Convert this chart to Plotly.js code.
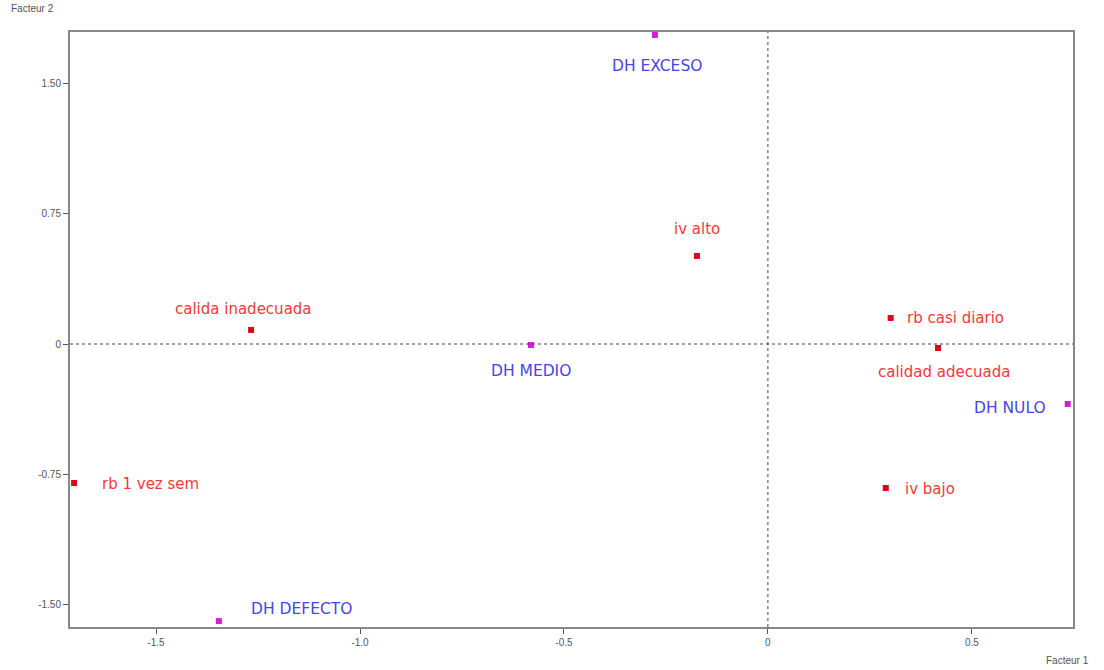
<!DOCTYPE html>
<html><head><meta charset="utf-8">
<script src="https://cdn.plot.ly/plotly-3.0.1.min.js"></script>
<style>html,body{margin:0;padding:0;background:#fff}#chart{width:1104px;height:670px}</style>
</head><body><div id="chart"></div>
<script>
// Modalities (Factor 1, Factor 2)
const redNames = ["iv alto", "calida inadecuada", "rb casi diario", "calidad adecuada", "rb 1 vez sem", "iv bajo"];
const redX = [-0.174, -1.267, 0.301, 0.417, -1.701, 0.289];
const redY = [0.507, 0.081, 0.150, -0.023, -0.800, -0.829];
const blueNames = ["DH EXCESO", "DH MEDIO", "DH NULO", "DH DEFECTO"];
const blueX = [-0.277, -0.581, 0.735, -1.346];
const blueY = [1.779, -0.006, -0.345, -1.595];
const xTickVals = [-1.5, -1.0, -0.5, 0, 0.5];
const xTickText = ["-1.5", "-1.0", "-0.5", "0", "0.5"];
const yTickVals = [1.5, 0.75, 0, -0.75, -1.5];
const yTickText = ["1.50", "0.75", "0", "-0.75", "-1.50"];

// label placement (styling): anchor and pixel offsets from the marker
const redPos = [["center", 0, 27], ["center", -8, 21], ["left", 14, 0], ["center", 6, -24], ["left", 26, -1], ["left", 17, -1]];
const bluePos = [["center", 2, -31], ["center", 0, -26], ["right", -20, -4], ["left", 30, 12]];

const font = "DejaVu Sans, Liberation Sans, sans-serif";
const tfont = "Liberation Sans, Arial, sans-serif";
const annotations = [];
redNames.forEach((n, i) => annotations.push({x: redX[i], y: redY[i], text: n, showarrow: false,
  xanchor: redPos[i][0], xshift: redPos[i][1], yshift: redPos[i][2], font: {family: font, size: 15, color: "#f03a3a"}}));
blueNames.forEach((n, i) => annotations.push({x: blueX[i], y: blueY[i], text: n, showarrow: false,
  xanchor: bluePos[i][0], xshift: bluePos[i][1], yshift: bluePos[i][2], font: {family: font, size: 15.5, color: "#4646e6"}}));
annotations.push({xref: "paper", yref: "paper", x: -0.037, y: 1.0, yshift: 24, xanchor: "center", yanchor: "middle",
  text: "Facteur 2", showarrow: false, font: {family: tfont, size: 10, color: "#555"}});
annotations.push({xref: "paper", yref: "paper", x: 0.995, y: 0, yshift: -33, xanchor: "center", yanchor: "middle",
  text: "Facteur 1", showarrow: false, font: {family: tfont, size: 10, color: "#555"}});

const data = [
  {x: redX, y: redY, mode: "markers", type: "scatter", hoverinfo: "skip",
   marker: {symbol: "square", size: 6, color: "#e0001a"}},
  {x: blueX, y: blueY, mode: "markers", type: "scatter", hoverinfo: "skip",
   marker: {symbol: "square", size: 6, color: "#d020d0"}}
];

const layout = {
  width: 1104, height: 670, showlegend: false,
  paper_bgcolor: "#fff", plot_bgcolor: "#fff",
  margin: {l: 70, r: 31, t: 32, b: 43},
  xaxis: {range: [-1.711, 0.748], tickvals: xTickVals, ticktext: xTickText,
    showgrid: false, zeroline: false,
    showline: true, linecolor: "#888", linewidth: 2, mirror: true,
    ticks: "outside", ticklen: 5, tickcolor: "#555",
    tickfont: {family: tfont, size: 10, color: "#555"}},
  yaxis: {range: [-1.629, 1.796], tickvals: yTickVals, ticktext: yTickText,
    showgrid: false, zeroline: false,
    showline: true, linecolor: "#888", linewidth: 2, mirror: true,
    ticks: "outside", ticklen: 5, tickcolor: "#555",
    tickfont: {family: tfont, size: 10, color: "#555"}},
  shapes: [
    {type: "line", xref: "x", yref: "paper", x0: 0, x1: 0, y0: 0, y1: 1, line: {color: "#444", width: 1, dash: "dot"}},
    {type: "line", xref: "paper", yref: "y", x0: 0, x1: 1, y0: 0, y1: 0, line: {color: "#444", width: 1, dash: "dot"}}
  ],
  annotations: annotations
};
Plotly.newPlot("chart", data, layout, {staticPlot: true, displayModeBar: false});
</script></body></html>
